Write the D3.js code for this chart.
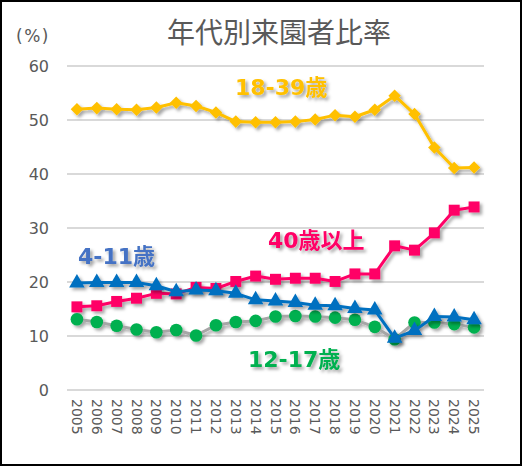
<!DOCTYPE html>
<html>
<head>
<meta charset="utf-8">
<script src="https://cdn.jsdelivr.net/npm/d3@7"></script>
<style>
  body { margin: 0; background: #fff; }
  text { font-family: "DejaVu Sans", "Noto Sans CJK JP", sans-serif; }
</style>
</head>
<body>
<div id="chart"></div>
<script>
const years = ['2005','2006','2007','2008','2009','2010','2011','2012','2013','2014','2015',
  '2016','2017','2018','2019','2020','2021','2022','2023','2024','2025'];

const age18to39 = [52.0, 52.2, 52.0, 51.9, 52.3, 53.2, 52.6, 51.4, 49.7, 49.6, 49.6,
  49.7, 50.1, 50.9, 50.6, 51.9, 54.5, 51.1, 44.9, 41.1, 41.2];
const age40plus = [15.4, 15.6, 16.4, 17.0, 17.9, 17.8, 19.0, 18.8, 20.1, 21.1, 20.5,
  20.7, 20.7, 20.1, 21.5, 21.5, 26.7, 25.9, 29.1, 33.3, 33.9];
const age4to11 = [19.8, 19.9, 19.9, 19.9, 19.3, 18.2, 18.5, 18.4, 17.9, 16.7, 16.5,
  16.2, 15.7, 15.6, 15.1, 14.8, 9.6, 11.0, 13.6, 13.5, 13.0];
const age12to17 = [13.1, 12.6, 11.9, 11.2, 10.7, 11.1, 10.1, 12.0, 12.6, 12.8, 13.6,
  13.7, 13.6, 13.4, 13.0, 11.7, 9.4, 12.5, 12.5, 12.2, 11.6];

const yTicks = [0, 10, 20, 30, 40, 50, 60];

const width = 522;
const height = 466;
const margin = { top: 66, right: 38, bottom: 76, left: 67 };

const svg = d3.select('#chart')
  .append('svg')
  .attr('width', width)
  .attr('height', height);

// drop shadow like the office chart
const defs = svg.append('defs');
defs.append('filter')
  .attr('id', 'shadow')
  .attr('x', '-20%').attr('y', '-20%')
  .attr('width', '140%').attr('height', '140%')
  .append('feDropShadow')
  .attr('dx', 2.5).attr('dy', 2.5)
  .attr('stdDeviation', 1.6)
  .attr('flood-color', '#000')
  .attr('flood-opacity', 0.35);

svg.append('rect')
  .attr('x', 1).attr('y', 1)
  .attr('width', width - 2).attr('height', height - 2)
  .attr('fill', '#fff')
  .attr('stroke', '#000')
  .attr('stroke-width', 2);

const x = d3.scaleBand()
  .domain(years)
  .range([margin.left, width - margin.right])
  .padding(0);

const y = d3.scaleLinear()
  .domain([0, 60])
  .range([height - margin.bottom, margin.top]);

// grid
svg.append('g')
  .selectAll('line')
  .data(yTicks)
  .join('line')
    .attr('x1', margin.left)
    .attr('x2', width - margin.right)
    .attr('y1', d => y(d))
    .attr('y2', d => y(d))
    .attr('stroke', '#d9d9d9')
    .attr('stroke-width', 2);

// y axis labels
svg.append('g')
  .attr('transform', `translate(${margin.left - 6},0)`)
  .call(d3.axisLeft(y).tickValues(yTicks).tickSize(0).tickPadding(12))
  .call(g => g.select('.domain').remove())
  .call(g => g.selectAll('text')
    .attr('fill', '#595959')
    .attr('font-size', '16px')
    .style('font-family', '"DejaVu Sans", sans-serif'));

// x axis labels, vertical
svg.append('g')
  .attr('transform', `translate(0,${y(0)})`)
  .call(d3.axisBottom(x).tickSize(0).tickPadding(0))
  .call(g => g.select('.domain').remove())
  .call(g => g.selectAll('text')
    .attr('fill', '#595959')
    .attr('font-size', '14px')
    .attr('transform', 'rotate(90)')
    .attr('x', 9)
    .attr('y', 0)
    .attr('dy', '0.35em')
    .attr('text-anchor', 'start'));

const cx = d => x(d) + x.bandwidth() / 2;
const line = d3.line()
  .x(d => cx(d.year))
  .y(d => y(d.value));

function pts(values) {
  return years.map((yr, i) => ({ year: yr, value: values[i] }));
}

function drawSeries(values, lineColor, markColor, shape, size) {
  const g = svg.append('g').attr('filter', 'url(#shadow)');
  g.append('path')
    .datum(pts(values))
    .attr('d', line)
    .attr('fill', 'none')
    .attr('stroke', lineColor)
    .attr('stroke-width', 3)
    .attr('stroke-linejoin', 'round');
  g.selectAll('path.mark')
    .data(pts(values))
    .join('path')
      .attr('class', 'mark')
      .attr('transform', d => `translate(${cx(d.year)},${y(d.value)})`)
      .attr('d', d3.symbol().type(shape).size(size))
      .attr('fill', markColor);
}

drawSeries(age18to39, '#ffc000', '#ffc000', d3.symbolDiamond2, 100);
drawSeries(age40plus, '#ff0066', '#ff0066', d3.symbolSquare, 120);
drawSeries(age12to17, '#a6a6a6', '#00b050', d3.symbolCircle, 125);
drawSeries(age4to11, '#0070c0', '#0070c0', d3.symbolTriangle, 105);

// title and unit
svg.append('text')
  .attr('x', 279).attr('y', 43)
  .attr('text-anchor', 'middle')
  .attr('fill', '#595959')
  .attr('font-size', '28px')
  .style('font-family', '"Noto Sans CJK JP", sans-serif')
  .text('年代別来園者比率');

svg.append('text')
  .attr('x', 16).attr('y', 42)
  .attr('fill', '#595959')
  .attr('font-size', '17px')
  .attr('letter-spacing', '1.5px')
  .text('(%)');

// series labels
const labels = [
  { text: '18-39歳', x: 235, y: 95, color: '#ffc000' },
  { text: '40歳以上', x: 268, y: 248, color: '#ff0066' },
  { text: '4-11歳', x: 78, y: 264, color: '#4472c4' },
  { text: '12-17歳', x: 248, y: 367, color: '#00b050' }
];

svg.append('g')
  .attr('filter', 'url(#shadow)')
  .selectAll('text')
  .data(labels)
  .join('text')
    .attr('x', d => d.x)
    .attr('y', d => d.y)
    .attr('fill', d => d.color)
    .attr('font-size', '22px')
    .attr('font-weight', 'bold')
    .text(d => d.text);
</script>
</body>
</html>
